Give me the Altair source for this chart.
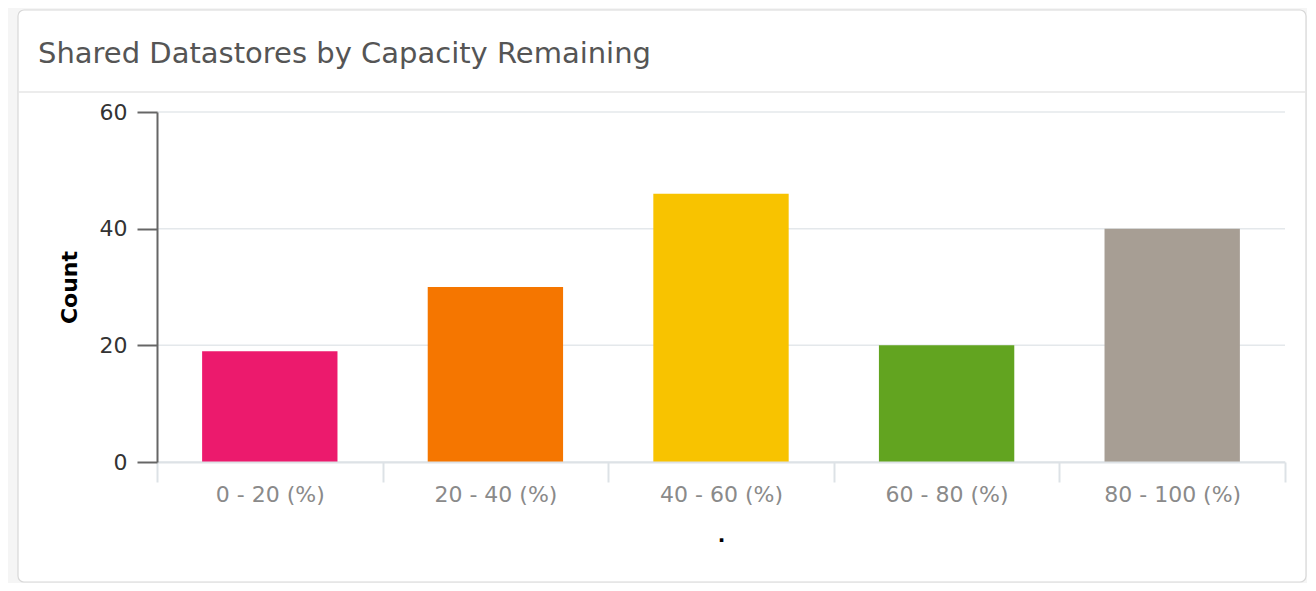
import altair as alt
import pandas as pd

# ---- data ----
categories = ["0 - 20 (%)", "20 - 40 (%)", "40 - 60 (%)", "60 - 80 (%)", "80 - 100 (%)"]
counts = [19, 30, 46, 20, 40]
bar_colors = ["#EC1A6D", "#F57600", "#F8C300", "#62A420", "#A79E94"]
grid_values = [0, 20, 40, 60]

bars_df = pd.DataFrame({"range": categories, "count": counts})
grid_df = pd.DataFrame({"count": grid_values})
one_df = pd.DataFrame({"k": [0]})

W, H = 1128, 350
FONT = "DejaVu Sans"
yscale = alt.Scale(domain=[0, 60])

yaxis = alt.Axis(
    title="Count",
    values=grid_values,
    grid=False,
    labelFont=FONT,
    labelFontSize=22,
    labelColor="#333333",
    labelPadding=10,
    tickSize=20,
    tickColor="#666666",
    tickWidth=2,
    domainColor="#666666",
    domainWidth=2,
    titleFont=FONT,
    titleFontSize=22,
    titleFontWeight="bold",
    titleColor="#000000",
    titlePadding=18,
    zindex=1,
)

xaxis = alt.Axis(
    title=".",
    labelAngle=0,
    labelFont=FONT,
    labelFontSize=22,
    labelColor="#8a8a8a",
    labelPadding=2,
    tickBand="extent",
    tickSize=20,
    tickColor="#dde2e6",
    tickWidth=2,
    domainColor="#dde2e6",
    domainWidth=2,
    titleFont=FONT,
    titleFontSize=20,
    titleFontWeight="bold",
    titleColor="#000000",
    titlePadding=20,
    zindex=1,
)

# card background and header separator (decoration)
card = alt.Chart(one_df).mark_rect(
    fill="white", stroke="#d8d8d8", strokeWidth=1.2, cornerRadius=6
).encode(x=alt.value(-139), x2=alt.value(1149), y=alt.value(-102), y2=alt.value(470))

sep = alt.Chart(one_df).mark_rule(color="#e6e6e6", strokeWidth=1.5).encode(
    x=alt.value(-139), x2=alt.value(1149), y=alt.value(-20)
)

grid = alt.Chart(grid_df).mark_rule(color="#e4e8eb", strokeWidth=1.5).encode(
    y=alt.Y("count:Q", scale=yscale, axis=yaxis),
    x=alt.value(0),
    x2=alt.value(W),
)

bars = alt.Chart(bars_df).mark_bar(width=alt.RelativeBandSize(0.6)).encode(
    x=alt.X(
        "range:N",
        sort=categories,
        scale=alt.Scale(paddingInner=0, paddingOuter=0),
        axis=xaxis,
    ),
    y=alt.Y("count:Q", scale=yscale, axis=yaxis),
    color=alt.Color("range:N", scale=alt.Scale(domain=categories, range=bar_colors), legend=None),
)

chart = (
    alt.layer(card, sep, grid, bars)
    .properties(
        width=W,
        height=H,
        autosize=alt.AutoSizeParams(type="none"),
        padding={"left": 149, "top": 104, "right": 22, "bottom": 121},
        title=alt.TitleParams(
            "Shared Datastores by Capacity Remaining",
            anchor="start",
            frame="group",
            dx=-119,
            dy=60,
            offset=0,
            font=FONT,
            fontSize=29,
            fontWeight="normal",
            color="#555555",
        ),
    )
    .configure(background="#f5f5f5")
    .configure_view(stroke=None)
)

chart.save("out.html", embed_options={"renderer": "svg", "actions": False})
